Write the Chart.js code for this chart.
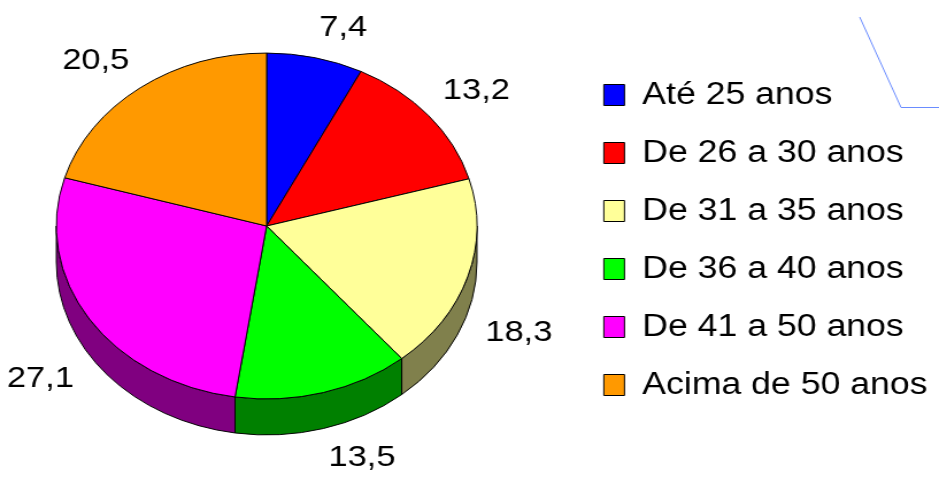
<!DOCTYPE html>
<html>
<head>
<meta charset="utf-8">
<script src="https://cdn.jsdelivr.net/npm/chart.js@4.4.1/dist/chart.umd.min.js"></script>
<style>
  html, body { margin: 0; padding: 0; background: #fff; overflow: hidden; }
  /* o grafico original foi esticado na horizontal */
  #wrap { width: 817px; height: 480px; transform: scaleX(1.1493); transform-origin: 0 0; }
</style>
</head>
<body>
<div id="wrap"><canvas id="chartIdade" width="817" height="480"></canvas></div>
<script>
const categorias = ['Até 25 anos', 'De 26 a 30 anos', 'De 31 a 35 anos', 'De 36 a 40 anos', 'De 41 a 50 anos', 'Acima de 50 anos'];
const valores = [7.4, 13.2, 18.3, 13.5, 27.1, 20.5];
const cores = ['#0000FF', '#FF0000', '#FFFF99', '#00FF00', '#FF00FF', '#FF9900'];
const coresLado = ['#000080', '#800000', '#80804C', '#008000', '#800080', '#804C00'];

const fonte = '"Liberation Sans", Arial, sans-serif';
const inclinacao = 0.945; // achatamento vertical do disco
const profundidade = 36;  // altura da lateral
const centroX = 232;      // centro do disco na tela
const centroY = 226;

function aplicarVista(ctx, arc) {
  ctx.translate(centroX, centroY);
  ctx.scale(1, inclinacao);
  ctx.translate(-arc.x, -arc.y);
}

// desenha a lateral 3D e os rotulos de valor
const pizza3d = {
  id: 'pizza3d',
  beforeDatasetsDraw(chart) {
    const ctx = chart.ctx;
    const arcs = chart.getDatasetMeta(0).data;
    ctx.save();
    aplicarVista(ctx, arcs[0]);
    const d = profundidade / inclinacao;
    arcs.forEach((arc, i) => {
      const a = Math.max(arc.startAngle, 0);
      const b = Math.min(arc.endAngle, Math.PI);
      if (a >= b) return;
      const r = arc.outerRadius;
      ctx.beginPath();
      ctx.arc(arc.x, arc.y, r, a, b);
      ctx.lineTo(arc.x + r * Math.cos(b), arc.y + r * Math.sin(b) + d);
      ctx.arc(arc.x, arc.y + d, r, b, a, true);
      ctx.closePath();
      ctx.fillStyle = coresLado[i];
      ctx.fill();
      ctx.lineWidth = 1;
      ctx.strokeStyle = '#000';
      ctx.stroke();
    });
    // o restore vem no afterDatasetsDraw, assim as fatias usam a mesma vista
  },
  afterDatasetsDraw(chart) {
    const ctx = chart.ctx;
    ctx.restore();
    const arcs = chart.getDatasetMeta(0).data;
    ctx.save();
    ctx.font = '30px ' + fonte;
    ctx.fillStyle = '#000';
    arcs.forEach((arc, i) => {
      const meio = (arc.startAngle + arc.endAngle) / 2;
      const r = arc.outerRadius + 16;
      const c = Math.cos(meio), s = Math.sin(meio);
      const px = centroX + r * c;
      const py = centroY + r * inclinacao * s + (s > 0 ? profundidade : 0);
      ctx.textAlign = c >= 0 ? 'left' : 'right';
      ctx.textBaseline = s >= 0 ? 'top' : 'bottom';
      ctx.fillText(String(valores[i]).replace('.', ','), px, py);
    });
    ctx.restore();
  },
  afterDraw(chart) {
    // linha azul solta no canto
    const ctx = chart.ctx;
    ctx.save();
    ctx.strokeStyle = '#6A8CFF';
    ctx.lineWidth = 1;
    ctx.beginPath();
    ctx.moveTo(748, 17);
    ctx.lineTo(784, 107.5);
    ctx.lineTo(817, 107.5);
    ctx.stroke();
    ctx.restore();
  }
};

const ctx = document.getElementById('chartIdade').getContext('2d');

const config = {
  type: 'pie',
  data: {
    labels: categorias,
    datasets: [{
      data: valores,
      backgroundColor: cores,
      borderColor: '#000',
      borderWidth: 1,
      radius: 183,
      clip: false
    }]
  },
  options: {
    responsive: false,
    animation: false,
    events: [],
    plugins: {
      tooltip: { enabled: false },
      legend: {
        position: 'right',
        labels: {
          boxWidth: 18,
          boxHeight: 21,
          padding: 27,
          color: '#000',
          font: { family: fonte, size: 31 }
        }
      }
    }
  },
  plugins: [pizza3d]
};

const chartIdade = new Chart(ctx, config);
</script>
</body>
</html>
